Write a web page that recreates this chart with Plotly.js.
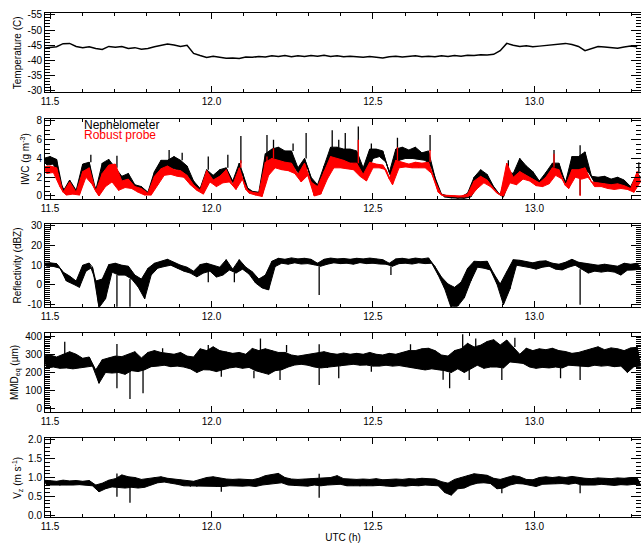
<!DOCTYPE html>
<html><head><meta charset="utf-8">
<script src="https://cdn.plot.ly/plotly-3.0.1.min.js"></script>
<style>html,body{margin:0;padding:0;background:#fff}#chart{width:641px;height:543px}</style>
</head><body><div id="chart"></div>
<script>
// sample grid (UTC hours)
const T0 = 11.48, DT = 0.0202;

const tempC = [-44.0,-44.2,-44.5,-45.5,-45.6,-44.6,-44.2,-44.5,-43.9,-43.6,
-44.6,-44.3,-44.6,-43.9,-44.2,-43.7,-43.9,-44.5,-45.0,-45.4,
-45.1,-44.6,-45.0,-42.3,-41.6,-41.0,-41.4,-41.0,-40.7,-40.8,
-40.6,-41.1,-41.0,-41.3,-41.1,-41.5,-41.3,-41.6,-41.2,-41.5,
-41.3,-41.6,-41.4,-41.7,-41.3,-41.5,-41.2,-41.4,-41.2,-41.0,
-41.3,-41.0,-40.8,-41.2,-41.4,-41.1,-41.3,-41.5,-41.2,-41.4,
-41.2,-41.5,-41.3,-41.6,-41.4,-41.7,-41.6,-41.9,-41.8,-42.0,
-43.2,-45.6,-45.0,-44.6,-44.8,-44.5,-44.7,-44.9,-45.0,-45.4,
-45.6,-45.2,-44.6,-43.2,-43.9,-44.6,-44.4,-44.1,-44.0,-44.4,
-44.7,-44.5];

// IWC, nephelometer: upper / lower edge of the trace, and isolated spikes [sample, value]
const iwcNephHi = [4.0,4.2,3.9,0.5,1.7,0.6,3.4,3.6,0.6,3.5,
3.9,3.0,2.1,2.4,1.2,1.0,0.4,2.6,3.8,3.8,
4.2,3.8,3.2,1.6,0.8,2.8,2.2,2.8,3.0,1.6,
3.5,1.0,0.5,0.4,4.5,5.0,5.2,4.8,4.8,3.0,
4.0,2.0,1.2,3.2,5.2,5.2,5.0,5.0,4.8,3.0,
5.0,5.0,4.8,2.5,5.0,5.2,4.9,5.2,4.6,4.8,
2.0,0.2,0.0,-0.1,-0.1,0.3,2.0,2.8,2.3,1.0,
0.1,2.6,2.4,4.0,3.2,2.6,1.6,2.5,3.5,3.5,
1.4,4.2,4.2,4.7,2.1,2.0,2.1,1.8,2.0,1.7,
1.0,2.4];
const iwcNephLo = [3.3,3.4,1.5,0.2,0.3,0.2,2.5,1.5,0.1,1.2,
2.0,0.8,1.2,1.0,0.5,0.2,0.2,1.5,2.8,3.0,
2.8,2.5,1.6,0.8,0.3,1.9,1.3,1.8,2.0,0.9,
2.5,0.4,0.2,0.0,3.0,3.8,3.6,3.4,3.0,2.0,
3.0,0.1,0.3,2.3,3.6,3.8,3.6,3.5,2.6,2.1,
4.0,4.2,3.6,1.5,3.8,4.0,4.0,3.9,3.8,3.0,
0.5,-0.1,-0.2,-0.25,-0.25,-0.1,1.0,1.8,1.3,0.4,
-0.1,1.8,1.4,2.4,2.0,1.4,1.2,1.6,2.8,2.2,
0.9,2.6,2.6,2.6,1.4,1.3,1.2,1.0,1.1,0.9,
0.5,2.0];
const iwcNephPeaks = [[7,4.4],[11,4.3],[19,4.9],[21,4.6],[25,4.2],[28,4.4],[30,6.4],[34,6.5],[35,6.0],[38,5.6],
[40,6.7],[44,7.0],[45,6.0],[46,6.7],[48,7.4],[50,5.6],[54,6.2],[59,6.5],[71,3.8],[78,4.9],[82,5.4],[91,3.6]];
const iwcNephDips = [[82,0.1]];

// IWC, robust probe
const iwcRobustHi = [3.1,3.2,3.0,0.4,1.5,0.4,2.6,3.0,0.5,2.4,
3.3,3.4,1.6,1.8,1.0,0.8,0.3,2.1,2.9,3.2,
2.8,2.7,2.2,1.2,0.6,2.7,1.7,2.1,2.8,1.2,
3.0,0.7,0.4,0.3,3.6,4.0,3.8,3.6,3.5,2.3,
3.5,1.5,1.0,2.6,4.2,4.0,3.8,3.5,3.5,2.3,
3.6,3.4,3.3,1.8,3.8,3.6,3.4,3.6,3.5,3.6,
1.6,0.1,0.05,0.0,0.0,0.2,1.6,2.1,1.7,0.8,
0.1,3.5,2.0,2.6,2.2,1.8,1.4,2.0,3.0,2.8,
1.1,2.8,2.8,3.0,1.5,1.4,1.3,1.2,1.3,1.1,
0.8,2.6];
const iwcRobustLo = [2.4,2.5,1.0,0.1,0.2,0.1,2.0,1.2,0.0,1.0,
1.5,0.6,0.9,0.8,0.4,0.1,0.1,1.2,2.2,2.3,
2.1,2.0,1.2,0.6,0.2,1.5,1.0,1.4,1.5,0.7,
1.8,0.3,0.1,-0.05,2.2,3.0,2.8,2.7,2.4,1.5,
2.2,0.0,0.2,1.8,3.0,3.0,2.9,2.8,2.1,1.6,
3.0,3.0,2.8,1.2,3.0,3.1,3.0,3.0,3.0,2.4,
0.4,0.0,-0.05,-0.1,-0.1,0.0,0.8,1.4,1.0,0.3,
0.0,1.4,1.2,1.8,1.6,1.1,1.0,1.3,2.2,1.8,
0.8,2.0,1.8,2.0,1.0,1.0,0.8,0.7,0.8,0.7,
0.4,1.5];
const iwcRobustPeaks = [[30,3.8],[34,4.2],[35,5.1],[48,6.0],[54,5.2],[59,4.9],[78,4.5]];
const iwcRobustDips = [[82,0.0]];

// Reflectivity (dBZ)
const reflHi = [11.0,11.2,10.8,6.5,4.5,2.0,10.0,11.1,2.0,3.0,
10.3,11.0,10.0,9.5,5.0,3.0,8.4,11.0,12.0,13.0,
11.5,10.0,9.0,7.0,10.3,11.0,10.0,9.0,12.8,8.0,
12.8,9.0,6.7,3.0,5.0,12.0,13.5,13.0,13.7,13.2,
13.5,13.0,11.0,13.0,13.6,13.2,13.4,13.0,13.5,13.2,
13.6,13.2,12.8,11.0,13.2,13.5,13.0,13.6,13.2,13.7,
9.3,4.0,0.5,-1.2,1.4,8.4,12.0,11.8,12.0,5.8,
0.5,6.7,12.8,12.5,11.8,11.2,12.0,12.2,11.0,10.5,
11.5,13.0,11.5,11.0,10.5,10.0,10.5,10.0,9.5,11.0,
10.5,11.0];
const reflLo = [9.5,9.4,8.5,2.0,0.5,-1.2,7.0,9.0,-11.5,-7.0,
6.5,5.0,5.0,3.0,-1.0,-7.0,5.0,8.5,9.3,10.0,
8.5,7.0,6.0,4.1,6.0,7.0,4.0,5.0,7.6,6.0,
8.0,5.5,1.0,-1.5,-2.5,9.3,11.0,10.5,11.2,10.6,
10.8,10.2,9.5,10.5,11.2,10.8,11.0,10.5,11.3,10.8,
11.0,10.6,10.5,9.5,10.8,11.0,10.6,11.2,10.8,11.0,
5.0,-2.0,-11.7,-10.7,-6.5,2.0,9.0,8.5,7.6,0.5,
-10.0,-2.0,10.0,9.5,8.8,8.0,9.0,9.5,8.0,7.6,
9.0,10.0,8.0,6.0,7.0,6.5,7.0,6.5,5.0,7.5,
7.6,8.0];
const reflPeaks = [];
const reflDips = [[11,-11.5],[13,-11.5],[25,1.4],[29,1.4],[42,-5.1],[53,5.0],[82,-10.0]];

// MMD_eq (um)
const mmdHi = [290,296,285,300,314,300,278,285,214,270,
280,290,287,300,314,280,310,320,310,305,
300,310,290,285,330,320,341,320,314,305,
310,300,332,320,330,320,310,310,296,290,
296,300,305,314,305,300,307,300,305,300,
310,300,296,305,300,310,320,320,330,333,
320,296,290,320,330,360,340,350,370,380,
351,378,340,300,333,320,330,325,333,320,
315,305,310,320,330,341,325,335,330,320,
335,338];
const mmdLo = [225,230,223,225,220,225,232,235,141,200,
197,200,190,210,205,215,232,235,240,232,
235,230,220,200,215,214,205,215,225,230,
223,228,210,200,190,210,215,230,241,245,
240,230,225,225,230,235,241,245,240,241,
235,235,240,235,238,230,225,220,214,220,
214,210,200,220,200,220,240,223,230,230,
225,258,255,250,230,223,228,225,230,225,
240,238,235,232,240,235,238,232,235,200,
232,235];
const mmdPeaks = [[3,369],[11,356],[18,333],[25,351],[33,387],[37,351],[42,355],[56,355],[64,410],[66,387],[72,390]];
const mmdDips = [[11,113],[13,55],[15,86],[27,177],[32,168],[36,159],[42,132],[45,168],[50,204],[61,160],[62,113],[65,159],[70,159],[79,168],[82,159]];

// V_z (m/s)
const vzHi = [0.93,0.92,0.90,0.93,0.91,0.92,0.90,0.92,0.80,0.85,
0.93,0.97,1.07,1.02,1.00,0.95,0.97,1.00,1.02,0.98,
0.96,0.94,0.92,0.90,0.95,1.00,1.02,0.98,0.96,0.95,
0.96,0.95,0.94,0.98,1.05,1.08,1.11,1.00,0.96,0.95,
0.96,0.97,0.98,0.98,1.00,1.05,0.97,0.96,0.95,0.96,
0.95,0.97,0.94,0.95,0.96,0.95,0.97,0.96,0.98,0.97,
0.96,0.89,0.85,0.95,1.00,1.05,1.10,1.08,1.06,0.98,
0.95,1.00,1.05,1.02,0.95,0.94,1.00,1.02,1.00,1.02,
1.00,1.03,1.00,0.98,0.97,0.99,0.98,0.97,0.99,0.98,
1.00,0.98];
const vzLo = [0.80,0.81,0.79,0.80,0.80,0.81,0.80,0.78,0.62,0.70,
0.75,0.74,0.72,0.74,0.72,0.74,0.80,0.86,0.88,0.85,
0.82,0.78,0.76,0.76,0.78,0.78,0.76,0.76,0.78,0.78,
0.77,0.78,0.76,0.80,0.84,0.84,0.86,0.80,0.78,0.78,
0.77,0.80,0.78,0.80,0.82,0.82,0.78,0.79,0.77,0.78,
0.78,0.79,0.77,0.76,0.78,0.77,0.79,0.78,0.80,0.79,
0.78,0.60,0.53,0.70,0.72,0.80,0.85,0.86,0.84,0.70,
0.72,0.80,0.84,0.83,0.80,0.76,0.82,0.84,0.83,0.84,
0.82,0.85,0.80,0.80,0.80,0.82,0.80,0.79,0.81,0.80,
0.82,0.80];
const vzPeaks = [[11,1.11],[42,1.10]];
const vzDips = [[11,0.49],[13,0.33],[27,0.62],[42,0.46],[70,0.58],[82,0.58]];

const xTickVals = [11.5, 12.0, 12.5, 13.0];
const xTickText = ['11.5', '12.0', '12.5', '13.0'];
const tempTicks = [-55, -50, -45, -40, -35, -30];
const iwcTicks = [0, 2, 4, 6, 8];
const reflTicks = [-10, 0, 10, 20, 30];
const mmdTicks = [0, 100, 200, 300, 400];
const vzTicks = [0.0, 0.5, 1.0, 1.5, 2.0];
const vzTickText = ['0.0', '0.5', '1.0', '1.5', '2.0'];
const legendLabels = ['Nephelometer', 'Robust probe'];

function times(n) { const t = []; for (let i = 0; i < n; i++) t.push(T0 + DT * i); return t; }
function envelope(hi, lo) {
  const x = [], y = [];
  hi.forEach((h, i) => { x.push(T0 + DT * i); y.push(h); });
  for (let i = lo.length - 1; i >= 0; i--) { x.push(T0 + DT * i + DT / 2); y.push(lo[i]); }
  return { x, y };
}
function zig(hi, lo) {
  const x = [], y = [];
  hi.forEach((h, i) => { const t = T0 + DT * i; x.push(t, t + DT / 2); y.push(h, lo[i]); });
  return { x, y };
}
function spikes(list, base) {
  const x = [], y = [];
  list.forEach(([i, v]) => { const t = T0 + DT * i + DT / 4; x.push(t, t, null); y.push(base[i], v, null); });
  return { x, y };
}
function bandTraces(hi, lo, peaks, dips, xa, ya, color, name) {
  const e = envelope(hi, lo), z = zig(hi, lo), p = spikes(peaks, hi), d = spikes(dips, lo);
  return [
    { x: e.x, y: e.y, xaxis: xa, yaxis: ya, mode: 'lines', fill: 'toself', fillcolor: color, name: name, line: { color: color, width: 1 }, hoverinfo: 'skip' },
    { x: z.x, y: z.y, xaxis: xa, yaxis: ya, mode: 'lines', name: name, line: { color: color, width: 1 }, hoverinfo: 'skip' },
    { x: p.x.concat(d.x), y: p.y.concat(d.y), xaxis: xa, yaxis: ya, mode: 'lines', name: name, line: { color: color, width: 1.3 }, connectgaps: false, hoverinfo: 'skip' }
  ];
}

const FONT = 'Liberation Sans, Arial, sans-serif';
let traces = [];
traces.push({ x: times(tempC.length), y: tempC, xaxis: 'x', yaxis: 'y', mode: 'lines', line: { color: '#000', width: 1.5 }, hoverinfo: 'skip' });
traces = traces.concat(bandTraces(iwcNephHi, iwcNephLo, iwcNephPeaks, iwcNephDips, 'x2', 'y2', '#000000', legendLabels[0]));
traces = traces.concat(bandTraces(iwcRobustHi, iwcRobustLo, iwcRobustPeaks, iwcRobustDips, 'x2', 'y2', '#ff0000', legendLabels[1]));
traces = traces.concat(bandTraces(reflHi, reflLo, reflPeaks, reflDips, 'x3', 'y3', '#000000', 'Reflectivity'));
traces = traces.concat(bandTraces(mmdHi, mmdLo, mmdPeaks, mmdDips, 'x4', 'y4', '#000000', 'MMD'));
traces = traces.concat(bandTraces(vzHi, vzLo, vzPeaks, vzDips, 'x5', 'y5', '#000000', 'Vz'));

function xax(anchor, title) {
  const a = {
    domain: [0, 1], range: [11.4845, 13.33], anchor: anchor,
    tickmode: 'array', tickvals: xTickVals, ticktext: xTickText,
    ticks: 'inside', ticklen: 6, tickcolor: '#000', tickwidth: 1,
    showline: true, linecolor: '#000', linewidth: 1, mirror: 'ticks',
    showgrid: false, zeroline: false,
    minor: { tickmode: 'linear', tick0: 11.5, dtick: 0.1, ticks: 'inside', ticklen: 3, tickcolor: '#000' },
    tickfont: { family: FONT, size: 10, color: '#000' }
  };
  if (title) a.title = { text: title, font: { family: FONT, size: 10, color: '#000' }, standoff: 2 };
  return a;
}
function yax(anchor, domain, range, tv, tt, mdt, title) {
  return {
    domain: domain, range: range, anchor: anchor,
    tickmode: 'array', tickvals: tv, ticktext: tt,
    ticks: 'inside', ticklen: 10, tickcolor: '#000', tickwidth: 1,
    showline: true, linecolor: '#000', linewidth: 1, mirror: 'ticks',
    showgrid: false, zeroline: false,
    minor: { tickmode: 'linear', tick0: tv[0], dtick: mdt, ticks: 'inside', ticklen: 5, tickcolor: '#000' },
    tickfont: { family: FONT, size: 10, color: '#000' },
    title: { text: title, font: { family: FONT, size: 10, color: '#000' }, standoff: 4 }
  };
}

const layout = {
  width: 641, height: 543,
  margin: { l: 45, r: 0, t: 0, b: 0 },
  paper_bgcolor: '#fff', plot_bgcolor: '#fff',
  showlegend: false,
  font: { family: FONT, size: 10, color: '#000' },
  xaxis: xax('y'), xaxis2: xax('y2'), xaxis3: xax('y3'), xaxis4: xax('y4'), xaxis5: xax('y5', 'UTC (h)'),
  yaxis: yax('x', [0.830, 0.9755], [-29.5, -55.5], tempTicks, tempTicks.map(String), 1, 'Temperature (C)'),
  yaxis2: yax('x2', [0.633, 0.7808], [-0.35, 8.2], iwcTicks, iwcTicks.map(String), 0.5, 'IWC (g m<sup>-3</sup>)'),
  yaxis3: yax('x3', [0.4352, 0.5869], [-11, 30.7], reflTicks, reflTicks.map(String), 1, 'Reflectivity (dBZ)'),
  yaxis4: yax('x4', [0.2418, 0.3862], [-15, 415], mmdTicks, mmdTicks.map(String), 10, 'MMD<sub>eq</sub> (\u00b5m)'),
  yaxis5: yax('x5', [0.0473, 0.1928], [-0.06, 2.045], vzTicks, vzTickText, 0.1, 'V<sub>z</sub> (m s<sup>-1</sup>)'),
  annotations: [
    { xref: 'paper', yref: 'paper', x: 0.062, y: 0.7707, xanchor: 'left', yanchor: 'middle', showarrow: false, text: legendLabels[0], font: { family: FONT, size: 12, color: '#000' } },
    { xref: 'paper', yref: 'paper', x: 0.062, y: 0.7505, xanchor: 'left', yanchor: 'middle', showarrow: false, text: legendLabels[1], font: { family: FONT, size: 12, color: '#ff0000' } }
  ]
};

Plotly.newPlot('chart', traces, layout, { staticPlot: true, displayModeBar: false });
</script>
</body></html>
